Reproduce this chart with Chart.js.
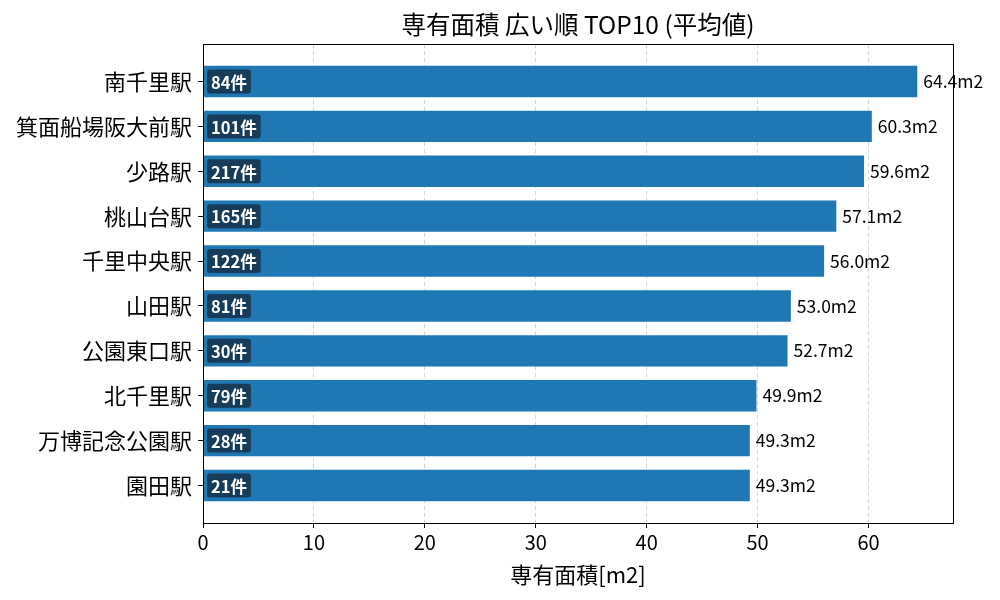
<!DOCTYPE html>
<html>
<head>
<meta charset="utf-8">
<script src="https://cdn.jsdelivr.net/npm/chart.js@4.4.0/dist/chart.umd.min.js"></script>
<style>
  html, body { margin: 0; padding: 0; background: #fff; }
  #wrap { width: 1000px; height: 600px; }
</style>
</head>
<body>
<div id="wrap"><canvas id="myBar" width="1000" height="600"></canvas></div>
<script>
// data
var stations = ['南千里駅', '箕面船場阪大前駅', '少路駅', '桃山台駅', '千里中央駅', '山田駅', '公園東口駅', '北千里駅', '万博記念公園駅', '園田駅'];
var areas = [64.4, 60.3, 59.6, 57.1, 56.0, 53.0, 52.7, 49.9, 49.3, 49.3];
var counts = [84, 101, 217, 165, 122, 81, 30, 79, 28, 21];
var xTicks = [0, 10, 20, 30, 40, 50, 60];
var chartTitle = '専有面積 広い順 TOP10 (平均値)';

var FONT = "'Noto Sans CJK JP', 'Noto Sans', sans-serif";

var points = areas.map(function (v, i) { return { x: v, y: i }; });

// labels next to the bars, count badges, frame and title
var barLabels = {
    id: 'barLabels',
    afterDatasetsDraw: function (chart) {
        var ctx = chart.ctx;
        var meta = chart.getDatasetMeta(0);
        var x0 = chart.scales.x.getPixelForValue(0);
        ctx.save();
        meta.data.forEach(function (bar, i) {
            // value label
            ctx.font = '17.5px ' + FONT;
            ctx.fillStyle = '#000';
            ctx.textAlign = 'left';
            ctx.textBaseline = 'middle';
            ctx.fillText(areas[i].toFixed(1) + 'm2', bar.x + 6, bar.y);

            // count badge
            var txt = counts[i] + '件';
            ctx.font = 'bold 16.5px ' + FONT;
            var w = ctx.measureText(txt).width;
            var bx = x0 + 4, bh = 24, bw = w + 8, by = bar.y - bh / 2;
            ctx.fillStyle = '#163c5a';
            ctx.beginPath();
            ctx.roundRect(bx, by, bw, bh, 3);
            ctx.fill();
            ctx.fillStyle = '#fff';
            ctx.fillText(txt, bx + 4, bar.y + 1);
        });
        ctx.restore();
    },
    afterDraw: function (chart) {
        var a = chart.chartArea;
        var ctx = chart.ctx;
        ctx.save();
        ctx.strokeStyle = '#000';
        ctx.lineWidth = 1;
        ctx.setLineDash([]);
        ctx.strokeRect(Math.round(a.left) + 0.5, Math.round(a.top) + 0.5,
            Math.round(a.right - a.left), Math.round(a.bottom - a.top));

        // title centred over the plot area
        ctx.font = '24.5px ' + FONT;
        ctx.fillStyle = '#000';
        ctx.textAlign = 'center';
        ctx.textBaseline = 'middle';
        ctx.fillText(chartTitle, (a.left + a.right) / 2, 25);
        ctx.restore();
    }
};

var ctx = document.getElementById('myBar').getContext('2d');
new Chart(ctx, {
    type: 'bar',
    data: {
        datasets: [{
            data: points,
            backgroundColor: '#1f77b4',
            borderWidth: 0,
            categoryPercentage: 1.0,
            barPercentage: 0.7
        }]
    },
    plugins: [barLabels],
    options: {
        indexAxis: 'y',
        responsive: false,
        animation: false,
        layout: { padding: { top: 44, right: 47, bottom: 0, left: 0 } },
        plugins: {
            legend: { display: false },
            tooltip: { enabled: false },
            title: { display: false }
        },
        scales: {
            x: {
                type: 'linear',
                min: 0,
                max: Math.max.apply(null, areas) * 1.05,
                afterBuildTicks: function (scale) {
                    scale.ticks = xTicks.map(function (v) { return { value: v }; });
                },
                afterFit: function (scale) { scale.height = 77; },
                ticks: {
                    color: '#000',
                    font: { family: FONT, size: 20 },
                    padding: 2,
                    maxRotation: 0
                },
                grid: {
                    color: '#cccccc',
                    lineWidth: 0.8,
                    tickColor: '#000',
                    tickLength: 5,
                    tickWidth: 1
                },
                border: { display: false, dash: [4, 3] },
                title: {
                    display: true,
                    text: '専有面積[m2]',
                    color: '#000',
                    font: { family: FONT, size: 22 },
                    padding: { top: 0, bottom: 12 }
                }
            },
            y: {
                type: 'linear',
                reverse: true,
                offset: false,
                min: -0.835,
                max: stations.length - 1 + 0.835,
                afterBuildTicks: function (scale) {
                    scale.ticks = stations.map(function (s, i) { return { value: i }; });
                },
                afterFit: function (scale) { scale.width = 203; },
                ticks: {
                    color: '#000',
                    font: { family: FONT, size: 22 },
                    padding: 6,
                    callback: function (v) { return stations[v]; }
                },
                grid: {
                    offset: false,
                    drawOnChartArea: false,
                    tickColor: '#000',
                    tickLength: 5,
                    tickWidth: 1
                },
                border: { display: false }
            }
        }
    }
});
</script>
</body>
</html>
